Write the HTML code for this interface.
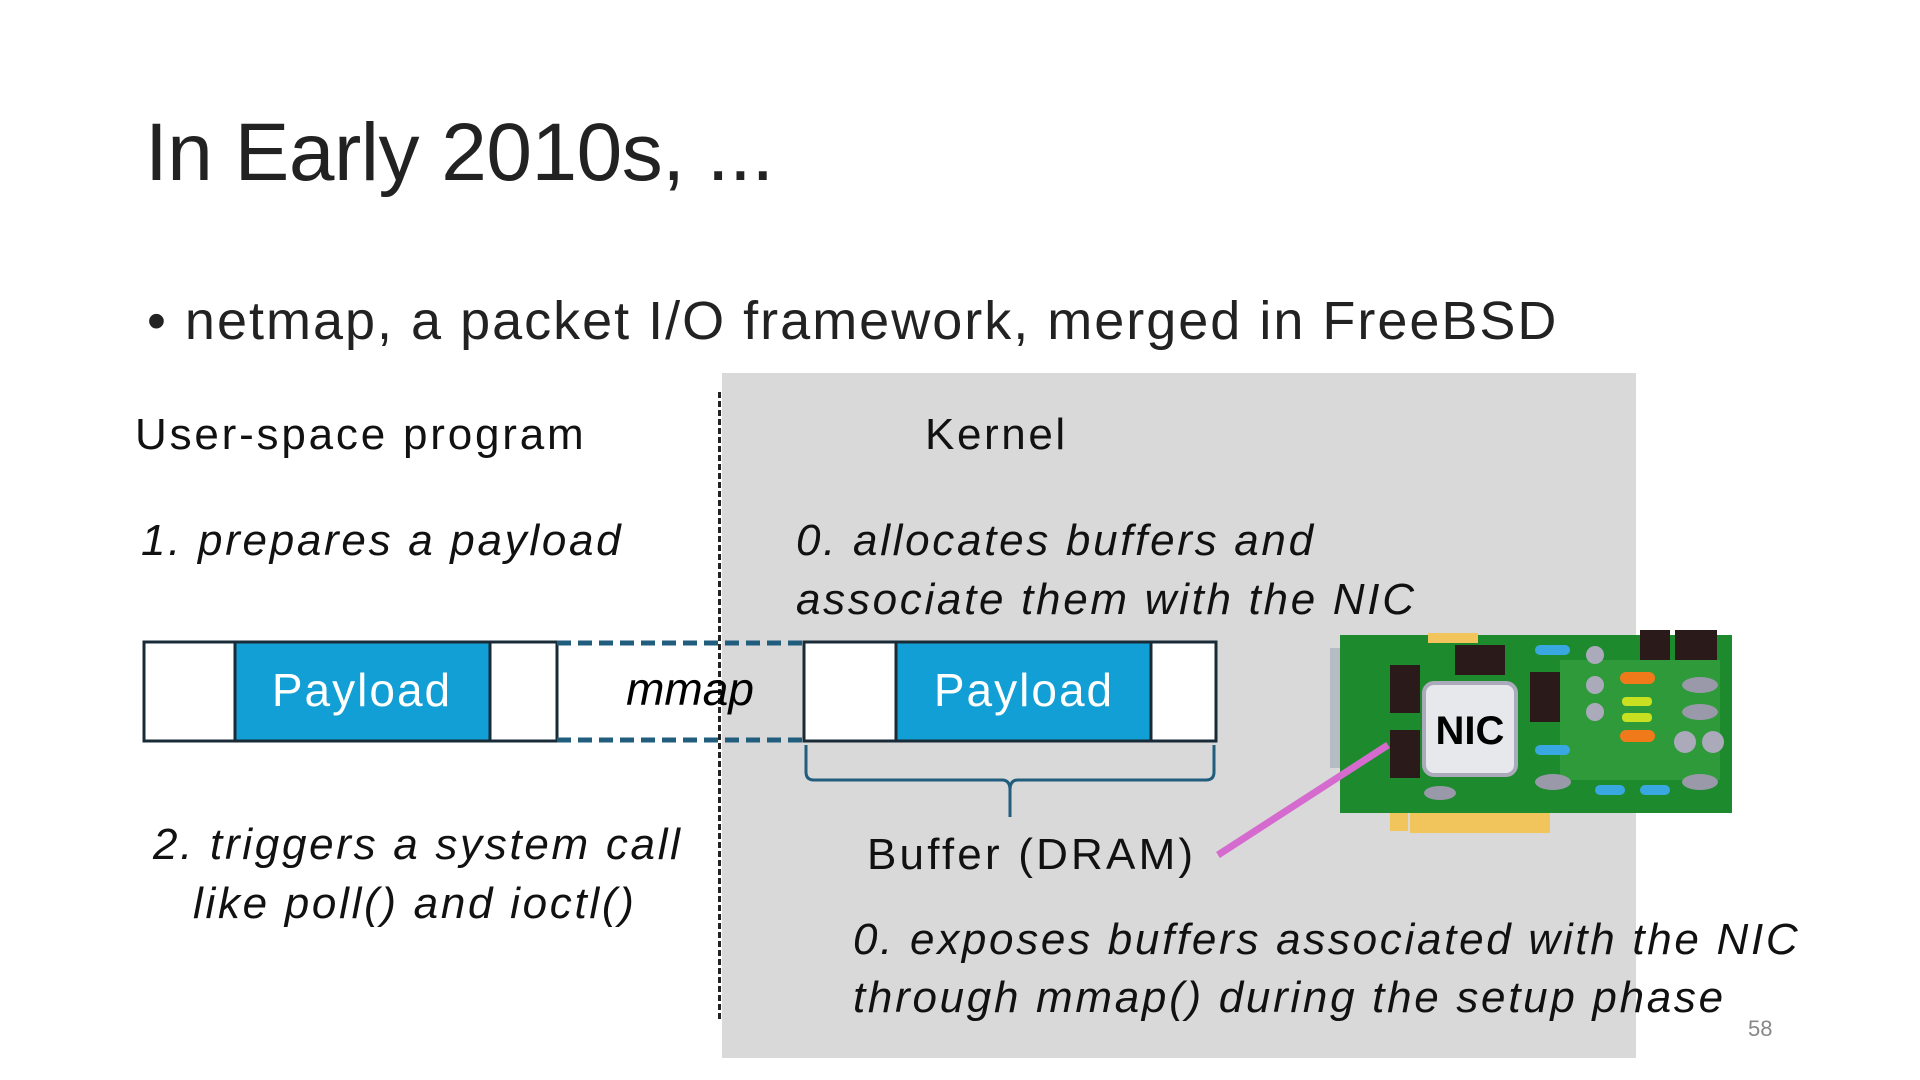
<!DOCTYPE html>
<html><head><meta charset="utf-8"><style>
body{margin:0;width:1920px;height:1080px;background:#fff;position:relative;overflow:hidden;font-family:"Liberation Sans","Noto Sans CJK JP",sans-serif;color:#111}
.t{position:absolute;white-space:nowrap;line-height:1}
.i{font-style:italic;font-size:44px;letter-spacing:2.7px}
</style></head><body>
<div style="position:absolute;left:722px;top:373px;width:914px;height:685px;background:#d9d9d9"></div>
<div style="position:absolute;left:718px;top:392px;height:627px;border-left:3px dashed #222"></div>
<div class="t" style="left:145px;top:112px;font-size:82px;color:#222;letter-spacing:-0.5px">In Early 2010s, ...</div>
<div class="t" style="left:147px;top:294px;font-size:54px;color:#222;letter-spacing:2px">• netmap, a packet I/O framework, merged in FreeBSD</div>
<div class="t" style="left:135px;top:413px;font-size:44px;letter-spacing:2.8px">User-space program</div>
<div class="t" style="left:925px;top:413px;font-size:44px;letter-spacing:2.6px">Kernel</div>
<div class="t i" style="left:141px;top:519px">1. prepares a payload</div>
<div class="t i" style="left:796px;top:519px">0. allocates buffers and</div>
<div class="t i" style="left:796px;top:578px">associate them with the NIC</div>
<div class="t i" style="left:153px;top:823px">2. triggers a system call</div>
<div class="t i" style="left:193px;top:882px">like poll() and ioctl()</div>
<div class="t i" style="left:853px;top:918px">0. exposes buffers associated with the NIC</div>
<div class="t i" style="left:853px;top:976px">through mmap() during the setup phase</div>
<div class="t" style="left:1748px;top:1018px;font-size:22px;color:#888">58</div>
<div class="t" style="left:867px;top:833px;font-size:44px;letter-spacing:3.2px">Buffer (DRAM)</div>
<svg style="position:absolute;left:0;top:0" width="1920" height="1080">
<rect x="144" y="642" width="413" height="99" fill="#fff" stroke="#1a2b38" stroke-width="3"/>
<rect x="235" y="642" width="255" height="99" fill="#119fd6" stroke="#1a2b38" stroke-width="3"/>
<rect x="804" y="642" width="412" height="99" fill="#fff" stroke="#1a2b38" stroke-width="3"/>
<rect x="896" y="642" width="255" height="99" fill="#119fd6" stroke="#1a2b38" stroke-width="3"/>
<line x1="557" y1="643" x2="804" y2="643" stroke="#215d7c" stroke-width="5" stroke-dasharray="14 7"/>
<line x1="557" y1="740" x2="804" y2="740" stroke="#215d7c" stroke-width="5" stroke-dasharray="14 7"/>
<path d="M806 745 V772 Q806 780 814 780 H1002 Q1010 780 1010 790 V817 M1010 790 Q1010 780 1018 780 H1206 Q1214 780 1214 772 V745" fill="none" stroke="#215d7c" stroke-width="3"/>
<text x="1024" y="706" font-size="46" fill="#fff" text-anchor="middle" font-family="Liberation Sans" letter-spacing="2">Payload</text>
<text x="362" y="706" font-size="46" fill="#fff" text-anchor="middle" font-family="Liberation Sans" letter-spacing="2">Payload</text>
<text x="690" y="705" font-size="46" font-style="italic" text-anchor="middle" font-family="Liberation Sans">mmap</text>
<g>
<rect x="1330" y="648" width="30" height="120" fill="#b5bcc4"/>
<rect x="1340" y="635" width="392" height="178" fill="#1e8a2e"/>
<rect x="1560" y="660" width="160" height="120" fill="#2e9a3a"/>
<rect x="1410" y="813" width="140" height="20" fill="#f2c55c"/>
<rect x="1390" y="813" width="18" height="18" fill="#f2c55c"/>
<rect x="1428" y="633" width="50" height="10" fill="#f2c55c"/>
<rect x="1390" y="665" width="30" height="48" fill="#2a1a1a"/>
<rect x="1390" y="730" width="30" height="48" fill="#2a1a1a"/>
<rect x="1455" y="645" width="50" height="30" fill="#2a1a1a"/>
<rect x="1530" y="672" width="30" height="50" fill="#2a1a1a"/>
<rect x="1640" y="630" width="30" height="30" fill="#2a1a1a"/>
<rect x="1675" y="630" width="42" height="30" fill="#2a1a1a"/>
<rect x="1620" y="672" width="35" height="12" rx="6" fill="#f07a1a"/>
<rect x="1620" y="730" width="35" height="12" rx="6" fill="#f07a1a"/>
<rect x="1622" y="697" width="30" height="9" rx="4" fill="#c8e020"/>
<rect x="1622" y="713" width="30" height="9" rx="4" fill="#c8e020"/>
<rect x="1535" y="645" width="35" height="10" rx="5" fill="#3aa8e0"/>
<rect x="1535" y="745" width="35" height="10" rx="5" fill="#3aa8e0"/>
<rect x="1595" y="785" width="30" height="10" rx="5" fill="#3aa8e0"/>
<rect x="1640" y="785" width="30" height="10" rx="5" fill="#3aa8e0"/>
<circle cx="1595" cy="655" r="9" fill="#aab"/><circle cx="1595" cy="685" r="9" fill="#aab"/><circle cx="1595" cy="712" r="9" fill="#aab"/>
<circle cx="1685" cy="742" r="11" fill="#aab"/><circle cx="1713" cy="742" r="11" fill="#aab"/>
<ellipse cx="1700" cy="685" rx="18" ry="8" fill="#99a"/><ellipse cx="1700" cy="712" rx="18" ry="8" fill="#99a"/><ellipse cx="1700" cy="782" rx="18" ry="8" fill="#99a"/>
<ellipse cx="1553" cy="782" rx="18" ry="8" fill="#99a"/><ellipse cx="1440" cy="793" rx="16" ry="7" fill="#99a"/>
<rect x="1424" y="683" width="92" height="92" rx="10" fill="#e6e8ec" stroke="#aab" stroke-width="4"/>
<text x="1470" y="744" font-size="40" font-weight="bold" text-anchor="middle" font-family="Liberation Sans">NIC</text>
</g>
<line x1="1218" y1="855" x2="1388" y2="745" stroke="#d66bcf" stroke-width="7"/>
</svg>
</body></html>
